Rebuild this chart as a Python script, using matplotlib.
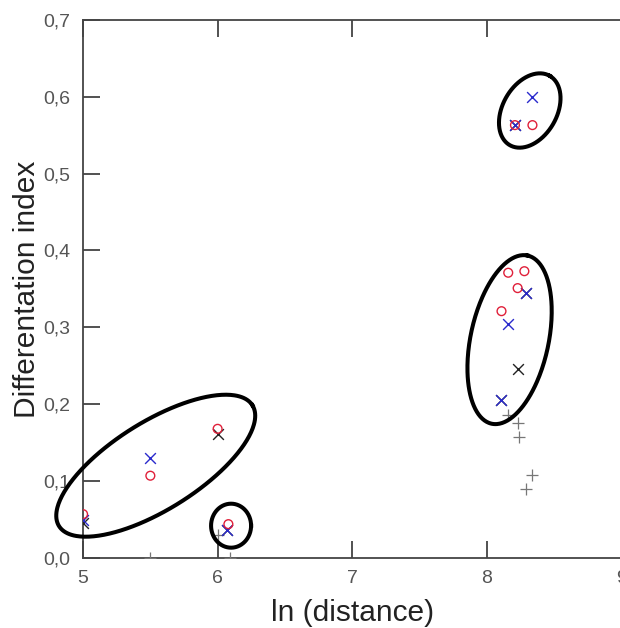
import matplotlib
matplotlib.use("Agg")
import matplotlib.pyplot as plt
import numpy as np
from matplotlib.ticker import FuncFormatter

plt.rcParams["font.family"] = ["Liberation Sans", "DejaVu Sans"]

# red circles
circ_x = [5.0, 5.5, 6.0, 6.08, 8.21, 8.34, 8.16, 8.28, 8.23, 8.11]
circ_y = [0.057, 0.107, 0.168, 0.044, 0.563, 0.563, 0.371, 0.373, 0.351, 0.321]
# blue crosses
blue_x = [5.0, 5.5, 6.07, 8.21, 8.34, 8.29, 8.16, 8.11]
blue_y = [0.050, 0.130, 0.036, 0.563, 0.600, 0.345, 0.304, 0.205]
# black crosses
blk_x = [5.0, 6.0, 6.07, 8.21, 8.29, 8.23, 8.11]
blk_y = [0.045, 0.161, 0.036, 0.563, 0.345, 0.246, 0.205]
# grey plus signs
plus_x = [5.5, 6.0, 6.09, 8.16, 8.23, 8.24, 8.34, 8.29]
plus_y = [0.0, 0.030, 0.0, 0.186, 0.176, 0.157, 0.108, 0.090]

# cluster outlines: centre (data), semi-axes (px), angle (deg)
groups = [
    ((5.54, 0.120), 114, 44, 32),
    ((6.10, 0.042), 20, 22, 0),
    ((8.32, 0.582), 40, 27, 60),
    ((8.17, 0.284), 86, 39, 78),
]

PX_X = 134.5  # pixels per x unit
PX_Y = 769.0  # pixels per y unit

fig = plt.figure(figsize=(6.2, 6.28), dpi=100)
ax = fig.add_axes([0.134, 0.1115, 0.868, 0.857])

ax.scatter(plus_x, plus_y, marker="+", s=70, c="#777777", linewidths=0.9, zorder=3)
ax.scatter(blk_x, blk_y, marker="x", s=60, c="#222222", linewidths=1.0, zorder=4)
ax.scatter(blue_x, blue_y, marker="x", s=60, c="#2a2acc", linewidths=1.0, zorder=5)
ax.scatter(circ_x, circ_y, marker="o", s=40, facecolors="none",
           edgecolors="#e0203a", linewidths=1.0, zorder=6)

t = np.linspace(0, 2 * np.pi, 300)
for (cx, cy), a, b, ang in groups:
    th = np.deg2rad(ang)
    dx = a * np.cos(t) * np.cos(th) - b * np.sin(t) * np.sin(th)
    dy = a * np.cos(t) * np.sin(th) + b * np.sin(t) * np.cos(th)
    ax.plot(cx + dx / PX_X, cy + dy / PX_Y, color="black", lw=2.9,
            zorder=7, clip_on=False)

ax.set_xlim(5, 9)
ax.set_ylim(0, 0.7)
ax.set_xticks([5, 6, 7, 8, 9])
ax.set_yticks(np.arange(0, 0.71, 0.1))
ax.yaxis.set_major_formatter(FuncFormatter(lambda v, p: f"{v:.1f}".replace(".", ",")))
ax.tick_params(direction="in", length=12, width=1.2, colors="#333333",
               labelcolor="#555555", labelsize=14, top=True, pad=9)

for s in ax.spines.values():
    s.set_color("#444444")
    s.set_linewidth(1.3)
ax.spines["right"].set_visible(False)

ax.set_xlabel("ln (distance)", fontsize=21.5, color="#222222", labelpad=8)
ax.set_ylabel("Differentation index", fontsize=21.5, color="#222222", labelpad=2)

fig.savefig("out.png", dpi=100)
